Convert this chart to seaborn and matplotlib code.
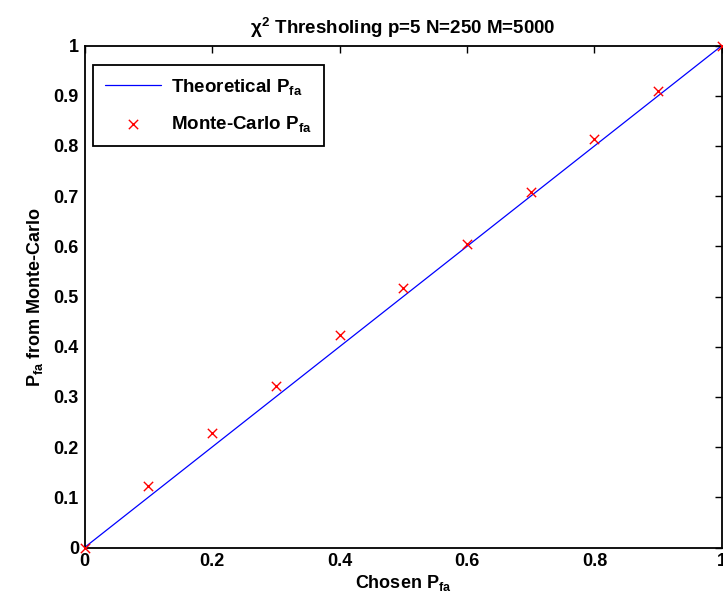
import matplotlib
matplotlib.use("Agg")
import matplotlib.pyplot as plt
import seaborn as sns
import pandas as pd

# data
chosen_pfa = [0.0, 0.1, 0.2, 0.3, 0.4, 0.5, 0.6, 0.7, 0.8, 0.9, 1.0]
theoretical_pfa = [0.0, 0.1, 0.2, 0.3, 0.4, 0.5, 0.6, 0.7, 0.8, 0.9, 1.0]
montecarlo_pfa = [0.0, 0.1225, 0.228, 0.322, 0.423, 0.517, 0.605, 0.709, 0.813, 0.909, 1.0]
xticks = [0, 0.2, 0.4, 0.6, 0.8, 1]
xticklabels = ["0", "0.2", "0.4", "0.6", "0.8", "1"]
yticks = [0, 0.1, 0.2, 0.3, 0.4, 0.5, 0.6, 0.7, 0.8, 0.9, 1]
yticklabels = ["0", "0.1", "0.2", "0.3", "0.4", "0.5", "0.6", "0.7", "0.8", "0.9", "1"]

sns.set_theme(style="white")
plt.rcParams["font.family"] = ["Liberation Sans", "DejaVu Sans"]
plt.rcParams["font.weight"] = "bold"
plt.rcParams["text.color"] = "black"
plt.rcParams["axes.labelcolor"] = "black"
plt.rcParams["xtick.color"] = "black"
plt.rcParams["ytick.color"] = "black"
plt.rcParams["mathtext.fontset"] = "custom"
plt.rcParams["mathtext.rm"] = "Liberation Sans:bold"
plt.rcParams["mathtext.it"] = "Liberation Sans:bold"
plt.rcParams["mathtext.bf"] = "Liberation Sans:bold"
plt.rcParams["mathtext.sf"] = "Liberation Sans:bold"

df = pd.DataFrame({"chosen": chosen_pfa, "theo": theoretical_pfa, "mc": montecarlo_pfa})

fig = plt.figure(figsize=(7.23, 6.07), dpi=100)
ax = fig.add_axes([0.1169, 0.098, 0.8817, 0.827])

sns.lineplot(data=df, x="chosen", y="theo", ax=ax, color="#0000ff", linewidth=0.9,
             label="Theoretical P$_{fa}$")
sns.scatterplot(data=df, x="chosen", y="mc", ax=ax, color="#ff0000", marker="x",
                s=45, linewidth=1.0, label="Monte-Carlo P$_{fa}$", zorder=5, clip_on=False)

ax.set_xlim(0, 1)
ax.set_ylim(0, 1)
ax.set_xticks(xticks)
ax.set_xticklabels(xticklabels)
ax.set_yticks(yticks)
ax.set_yticklabels(yticklabels)
ax.tick_params(axis="both", which="both", direction="in", length=5, width=1,
               top=True, right=True, labelsize=13, colors="black", pad=4)
for lab in ax.get_xticklabels() + ax.get_yticklabels():
    lab.set_fontweight("bold")
for sp in ax.spines.values():
    sp.set_visible(True)
    sp.set_color("black")
    sp.set_linewidth(1.3)

ax.set_title(r"$\chi^2$ Thresholing p=5 N=250 M=5000", fontsize=13.5, fontweight="bold",
             pad=8, color="black")
ax.set_xlabel("Chosen P$_{fa}$", fontsize=13, fontweight="bold", labelpad=2)
ax.set_ylabel("P$_{fa}$ from Monte-Carlo", fontsize=13, fontweight="bold", labelpad=6)

leg = ax.legend(loc="upper left", bbox_to_anchor=(0.013, 0.962), fancybox=False,
                edgecolor="black", framealpha=1, fontsize=13.5, handlelength=3.0,
                borderpad=0.65, labelspacing=0.9, handletextpad=0.5, borderaxespad=0)
leg.get_frame().set_linewidth(1.3)
for t in leg.get_texts():
    t.set_color("black")

fig.savefig("out.png", dpi=100)
